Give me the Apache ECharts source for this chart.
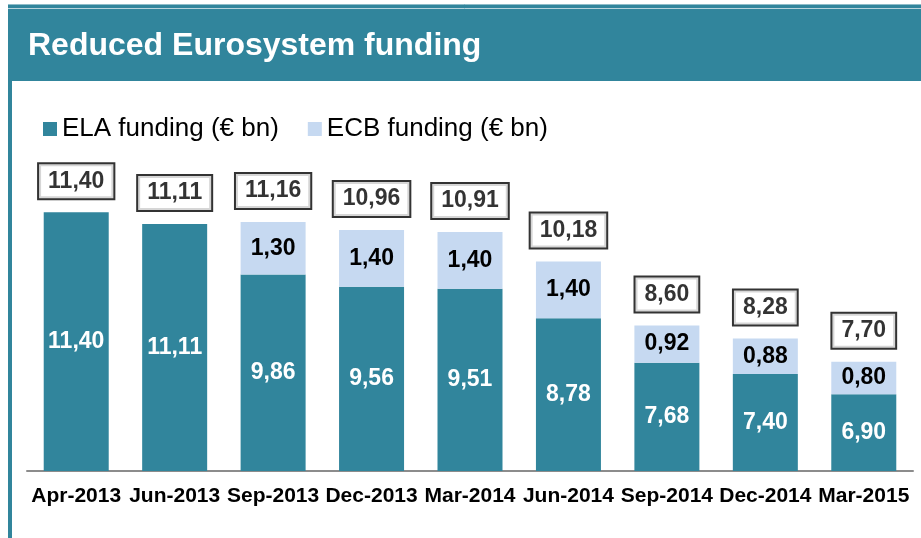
<!DOCTYPE html>
<html>
<head>
<meta charset="utf-8">
<script src="https://cdn.jsdelivr.net/npm/echarts@6/dist/echarts.min.js"></script>
<style>
  html, body { margin: 0; padding: 0; background: #fff; }
  #chart { width: 921px; height: 538px; }
</style>
</head>
<body>
<div id="chart"></div>
<script>
var categories = ['Apr-2013', 'Jun-2013', 'Sep-2013', 'Dec-2013', 'Mar-2014', 'Jun-2014', 'Sep-2014', 'Dec-2014', 'Mar-2015'];
var elaFunding = [11.40, 11.11, 9.86, 9.56, 9.51, 8.78, 7.68, 7.40, 6.90];
var ecbFunding = [null, null, 1.30, 1.40, 1.40, 1.40, 0.92, 0.88, 0.80];
var totalFunding = [11.40, 11.11, 11.16, 10.96, 10.91, 10.18, 8.60, 8.28, 7.70];

var teal = '#31859C';
var lightBlue = '#C6D9F1';
var fontFamily = 'Arial, "Liberation Sans", sans-serif';

function fmt(v) {
    return Number(v).toFixed(2).replace('.', ',');
}

var myChart = echarts.init(document.getElementById('chart'));
myChart.setOption({
    animation: false,
    backgroundColor: '#fff',
    textStyle: {fontFamily: fontFamily},
    graphic: [
        // title bar + left border
        {type: 'rect', shape: {x: 8, y: 4, width: 920, height: 77}, style: {fill: teal}, z: 0},
        {type: 'line', shape: {x1: 8, y1: 4.5, x2: 921, y2: 4.5}, style: {stroke: '#8fbcc8', lineWidth: 1}, z: 1},
        {type: 'line', shape: {x1: 8, y1: 8.5, x2: 921, y2: 8.5}, style: {stroke: '#b7d3dc', lineWidth: 1}, z: 1},
        {type: 'rect', shape: {x: 8, y: 80, width: 4, height: 460}, style: {fill: teal}, z: 0},
        {
            type: 'text', x: 28, y: 46, z: 2,
            style: {
                text: 'Reduced Eurosystem funding',
                fill: '#fff',
                font: 'bold 32px ' + fontFamily,
                verticalAlign: 'middle'
            }
        }
    ],
    legend: {
        data: ['ELA funding (€ bn)', 'ECB funding (€ bn)'],
        left: 38,
        top: 111,
        icon: 'rect',
        itemWidth: 14,
        itemHeight: 14,
        itemGap: 29,
        textStyle: {fontSize: 26, color: '#000', fontFamily: fontFamily}
    },
    grid: {
        left: 27,
        right: 8,
        top: 188,
        bottom: 67
    },
    xAxis: {
        type: 'category',
        data: categories,
        axisLine: {lineStyle: {color: '#8c8c8c', width: 2}},
        axisTick: {show: false},
        axisLabel: {
            interval: 0,
            margin: 15,
            color: '#000',
            fontSize: 21,
            fontWeight: 'bold',
            fontFamily: fontFamily
        }
    },
    yAxis: {
        type: 'value',
        min: 5,
        max: 12,
        show: false,
        splitLine: {show: false}
    },
    series: [
        {
            name: 'ELA funding (€ bn)',
            type: 'bar',
            stack: 'funding',
            barWidth: 65,
            itemStyle: {color: teal},
            label: {
                show: true,
                position: 'inside',
                color: '#fff',
                fontSize: 23,
                fontWeight: 'bold',
                textBorderWidth: 0,
                formatter: function (p) { return fmt(p.value); }
            },
            data: elaFunding
        },
        {
            name: 'ECB funding (€ bn)',
            type: 'bar',
            stack: 'funding',
            barWidth: 65,
            itemStyle: {color: lightBlue},
            label: {
                show: true,
                position: 'inside',
                color: '#000',
                fontSize: 23,
                fontWeight: 'bold',
                textBorderWidth: 0,
                formatter: function (p) { return p.value == null ? '' : fmt(p.value); }
            },
            data: ecbFunding
        },
        {
            name: 'Total',
            type: 'scatter',
            symbolSize: 0,
            z: 5,
            label: {
                show: true,
                position: 'top',
                distance: 14,
                color: '#000',
                fontSize: 23,
                fontWeight: 'bold',
                lineHeight: 24,
                textBorderWidth: 0,
                backgroundColor: '#fff',
                borderColor: '#000',
                borderWidth: 2,
                padding: [5, 9, 5, 9],
                formatter: function (p) { return fmt(p.value); }
            },
            emphasis: {disabled: true},
            data: totalFunding
        }
    ]
});
</script>
</body>
</html>
